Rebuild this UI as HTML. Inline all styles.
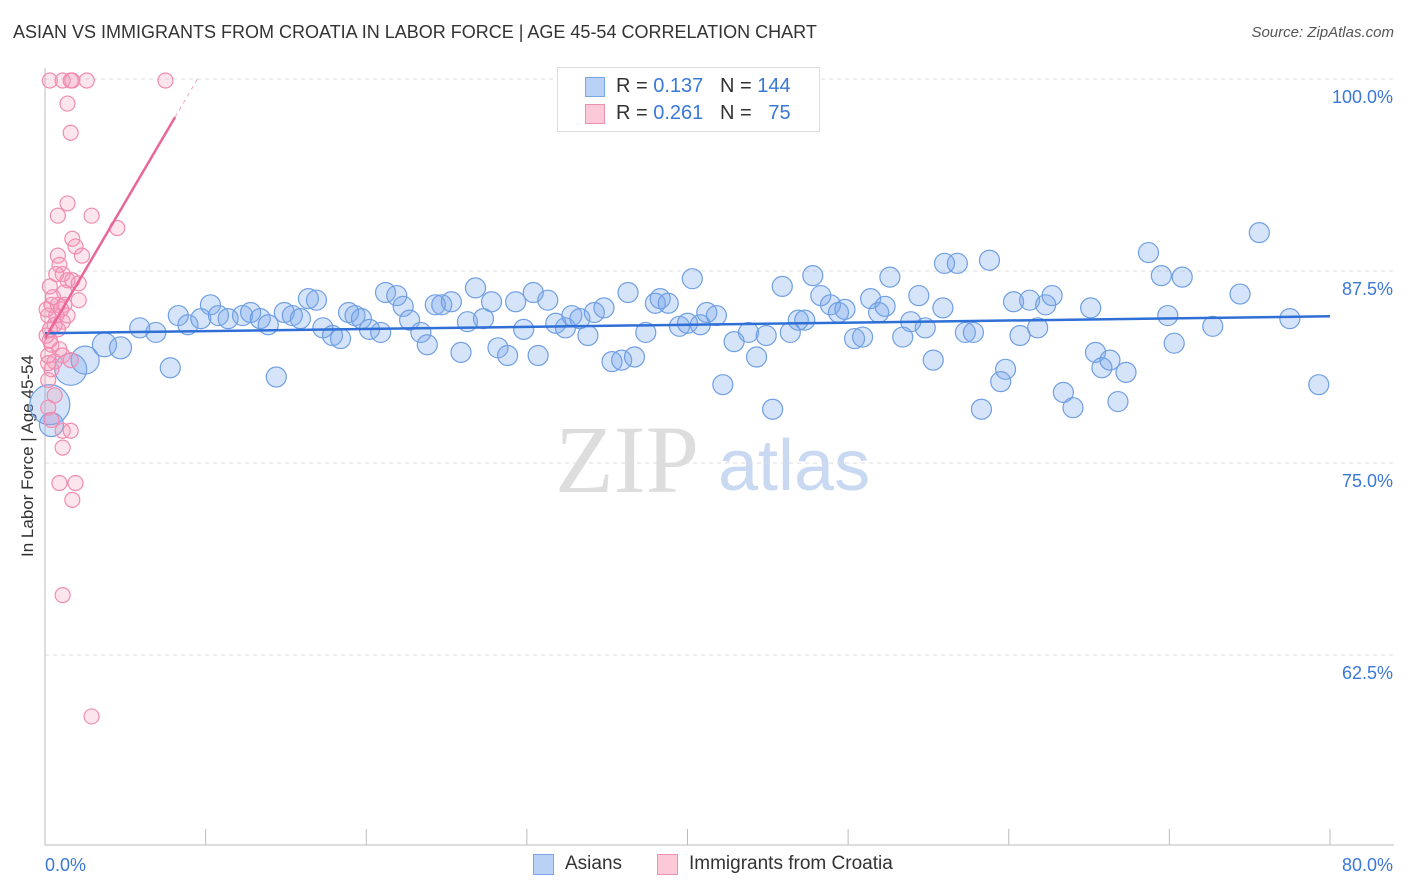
<!DOCTYPE html>
<html><head><meta charset="utf-8">
<style>
body{margin:0;background:#fff;font-family:"Liberation Sans",sans-serif;}
#wrap{position:relative;width:1406px;height:892px;overflow:hidden;}
.t{position:absolute;white-space:nowrap;}
</style></head>
<body>
<div id="wrap">
<div class="t" style="left:13px;top:22px;font-size:18px;color:#333;">ASIAN VS IMMIGRANTS FROM CROATIA IN LABOR FORCE | AGE 45-54 CORRELATION CHART</div>
<div class="t" style="right:12px;top:24px;font-size:15px;color:#555;font-style:italic;">Source: ZipAtlas.com</div>
<div class="t" style="left:28px;top:456px;font-size:17px;color:#333;transform:translate(-50%,-50%) rotate(-90deg);">In Labor Force | Age 45-54</div>
<svg id="svg" width="1406" height="892" style="position:absolute;left:0;top:0">
<text x="555" y="492" font-family="Liberation Serif" font-size="96" fill="#ddd">ZIP</text>
<text x="718" y="490" font-family="Liberation Sans" font-size="72" fill="#c9d9f2">atlas</text>
</svg>
<div style="position:absolute;left:557px;top:67px;width:261px;height:63px;border:1px solid #ddd;background:#fff;">
 <div style="position:absolute;left:27px;top:9px;width:18px;height:18px;background:#b9d1f5;border:1px solid #7aa6e6;"></div>
 <div class="t" style="left:58px;top:7px;font-size:20px;color:#333;">R = <span style="color:#3a78d6">0.137</span>&nbsp;&nbsp;&nbsp;N = <span style="color:#3a78d6">144</span></div>
 <div style="position:absolute;left:27px;top:36px;width:18px;height:18px;background:#fcc9d8;border:1px solid #f090b0;"></div>
 <div class="t" style="left:58px;top:34px;font-size:20px;color:#333;">R = <span style="color:#3a78d6">0.261</span>&nbsp;&nbsp;&nbsp;N = &nbsp;&nbsp;<span style="color:#3a78d6">75</span></div>
</div>
<div style="position:absolute;left:533px;top:854px;">
 <div style="position:absolute;left:0;top:0;width:19px;height:19px;background:#b9d1f5;border:1px solid #7aa6e6;"></div>
 <div class="t" style="left:32px;top:-1px;font-size:19px;color:#333;">Asians</div>
</div>
<div style="position:absolute;left:657px;top:854px;">
 <div style="position:absolute;left:0;top:0;width:19px;height:19px;background:#fcc9d8;border:1px solid #f090b0;"></div>
 <div class="t" style="left:32px;top:-1px;font-size:19px;color:#333;">Immigrants from Croatia</div>
</div>
</div>
<script>
const yTicks=[100,87.5,75,62.5];
const yTickLabels=["100.0%","87.5%","75.0%","62.5%"];
const xTicks=[0,10,20,30,40,50,60,70,80];
const xEndLabels=["0.0%","80.0%"];
const blueX=[0.3,0.4,1.6,2.5,3.7,4.7,5.9,6.9,7.8,8.3,8.9,9.7,10.3,10.8,11.4,12.3,12.8,13.4,13.9,14.4,14.9,15.4,15.9,16.4,16.9,17.3,17.9,18.4,18.9,19.3,19.7,20.2,20.9,21.2,21.9,22.3,22.7,23.4,23.8,24.3,24.7,25.3,25.9,26.3,26.8,27.3,27.8,28.2,28.8,29.3,29.8,30.4,30.7,31.3,31.8,32.4,32.8,33.3,33.8,34.2,34.8,35.3,35.9,36.3,36.7,37.4,38.0,38.3,38.8,39.5,40.0,40.3,40.8,41.2,41.8,42.2,42.9,43.8,44.3,44.9,45.3,45.9,46.4,46.9,47.3,47.8,48.3,48.9,49.4,49.8,50.4,50.9,51.4,51.9,52.3,52.6,53.4,53.9,54.4,54.8,55.3,55.9,56.0,56.8,57.3,57.8,58.3,58.8,59.5,59.8,60.3,60.7,61.3,61.8,62.3,62.7,63.4,64.0,65.1,65.4,65.8,66.3,66.8,67.3,68.7,69.5,69.9,70.3,70.8,72.7,74.4,75.6,77.5,79.3];
const blueY=[78.8,77.5,81.1,81.7,82.7,82.5,83.8,83.5,81.2,84.6,84.0,84.4,85.3,84.6,84.4,84.6,84.8,84.4,84.0,80.6,84.8,84.6,84.4,85.7,85.6,83.8,83.3,83.1,84.8,84.6,84.4,83.7,83.5,86.1,85.9,85.2,84.3,83.5,82.7,85.3,85.3,85.5,82.2,84.2,86.4,84.4,85.5,82.5,82.0,85.5,83.7,86.1,82.0,85.6,84.1,83.8,84.6,84.4,83.3,84.8,85.1,81.6,81.7,86.1,81.9,83.5,85.4,85.7,85.4,83.9,84.1,87.0,84.0,84.8,84.6,80.1,82.9,83.5,81.9,83.3,78.5,86.5,83.5,84.3,84.3,87.2,85.9,85.3,84.8,85.0,83.1,83.2,85.7,84.8,85.2,87.1,83.2,84.2,85.9,83.8,81.7,85.1,88.0,88.0,83.5,83.5,78.5,88.2,80.3,81.1,85.5,83.3,85.6,83.8,85.3,85.9,79.6,78.6,85.1,82.2,81.2,81.7,79.0,80.9,88.7,87.2,84.6,82.8,87.1,83.9,86.0,90.0,84.4,80.1];
const blueSize=[20,12,16,14,12,11];
const pinkX=[0.3,1.1,1.6,1.7,2.6,7.5,1.4,1.6,1.4,0.8,2.9,4.5,1.7,1.9,2.3,0.8,0.9,1.1,1.4,1.7,2.1,1.2,0.4,0.8,1.2,2.1,0.2,0.7,1.1,1.4,0.3,0.8,0.4,0.9,0.2,0.6,1.1,1.6,0.4,0.2,0.6,1.1,1.6,1.1,0.9,1.9,1.7,1.1,2.9,0.2,0.4,0.7,0.3,0.6,0.1,0.1,0.2,0.5,1.0,0.3];
const pinkY=[99.9,99.9,99.9,99.9,99.9,99.9,98.4,96.5,91.9,91.1,91.1,90.3,89.6,89.1,88.5,88.5,87.9,87.3,86.9,86.9,86.7,86.1,85.3,85.3,85.3,85.6,84.6,84.6,84.2,84.6,83.7,83.7,82.7,82.4,82.0,81.6,82.0,81.7,81.1,80.4,79.4,77.1,77.1,76.0,73.7,73.7,72.6,66.4,58.5,78.6,77.8,87.3,83.0,84.0,85.0,83.3,81.5,85.8,85.0,86.5];
const blueTrend=[83.45,84.55];
const pinkTrend=[83.1,1.78];
const X=v=>45+v*16.0625, Y=v=>79+(100-v)*15.36;
const svg=document.getElementById('svg');const NS='http://www.w3.org/2000/svg';
function mk(t,a){const e=document.createElementNS(NS,t);for(const k in a)e.setAttribute(k,a[k]);svg.appendChild(e);return e;}
yTicks.forEach((v,i)=>{
 const g=mk('line',{x1:45,x2:1394,y1:Y(v),y2:Y(v),stroke:'#ddd','stroke-dasharray':'4,4'});
 
 
 const t=mk('text',{x:1393,y:Y(v)+24,'text-anchor':'end','font-size':18,fill:'#3a78d6','font-family':'Liberation Sans'});
 t.textContent=yTickLabels[i];
 
 
});
const ax=mk('line',{x1:45,x2:45,y1:68,y2:845,stroke:'#bbb'});


const bx=mk('line',{x1:45,x2:1394,y1:845,y2:845,stroke:'#bbb'});


xTicks.forEach(v=>{const l=mk('line',{x1:X(v),x2:X(v),y1:829,y2:845,stroke:'#bbb'});
 
 });
[[0,'start',45],[80,'end',1393]].forEach((a,i)=>{const t=mk('text',{x:a[2],y:871,'text-anchor':a[1],'font-size':18,fill:'#3a78d6','font-family':'Liberation Sans'});t.textContent=xEndLabels[i];
 
 });
blueX.forEach((x,i)=>{const c=mk('circle',{cx:X(x),cy:Y(blueY[i]),r:blueSize[i]||10,fill:'rgba(120,165,235,0.3)',stroke:'#6f9fe3','stroke-width':1.2});
 
 });
pinkX.forEach((x,i)=>{const c=mk('circle',{cx:X(x),cy:Y(pinkY[i]),r:7.5,fill:'rgba(245,150,185,0.25)',stroke:'#f08cb0','stroke-width':1.2});
 
 });
const bt=mk('line',{x1:X(0),y1:Y(blueTrend[0]),x2:X(80),y2:Y(blueTrend[1]),stroke:'#2f6fd6','stroke-width':2.5});


const pt=mk('line',{x1:X(0),y1:Y(pinkTrend[0]),x2:X(8.1),y2:Y(pinkTrend[0]+pinkTrend[1]*8.1),stroke:'#e8669a','stroke-width':2.5});


const pd=mk('line',{x1:X(8.1),y1:Y(pinkTrend[0]+pinkTrend[1]*8.1),x2:X(9.5),y2:Y(pinkTrend[0]+pinkTrend[1]*9.5),stroke:'#f0a0c0','stroke-width':1,'stroke-dasharray':'4,4'});


</script>
</body></html>
